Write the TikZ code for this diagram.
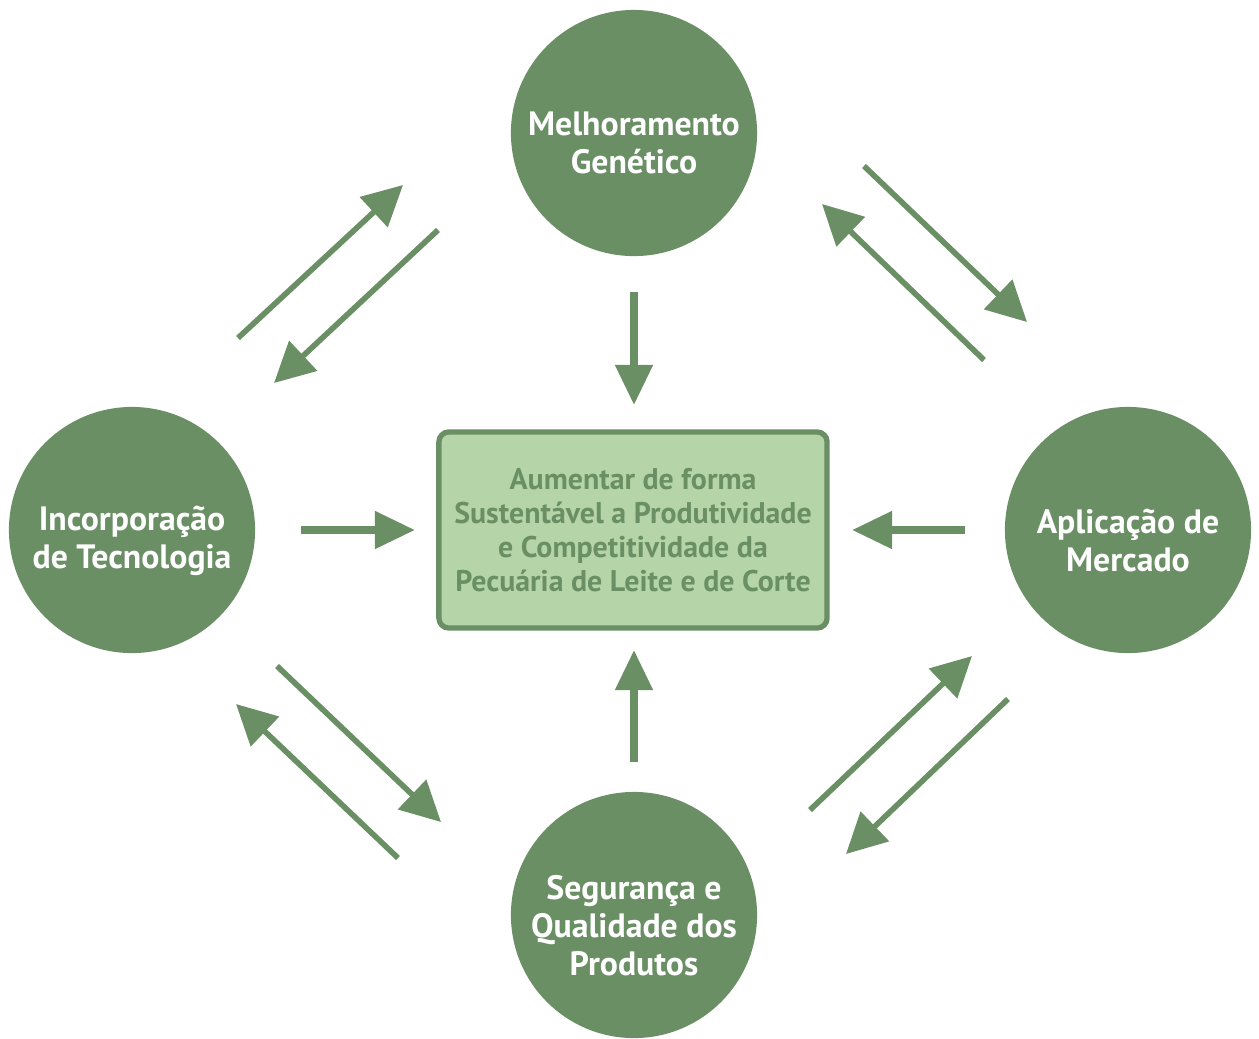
\documentclass[tikz,border=0pt]{standalone}
\usepackage{fontspec}
\setmainfont{PT Sans}
\usetikzlibrary{arrows.meta}

\definecolor{verde}{HTML}{6A8F64}
\definecolor{verdeclaro}{HTML}{B5D4A7}

\tikzset{
  eixo/.style={circle,fill=verde,minimum size=2.46cm,inner sep=0pt},
  rotulo/.style={text=white,inner sep=0pt,
    font=\bfseries\fontsize{9.6}{10.8}\selectfont,align=center},
  meta/.style={rectangle,rounded corners=0.1cm,draw=verde,line width=1.5pt,fill=verdeclaro,
    minimum width=3.88cm,minimum height=1.96cm,text=verde,
    font=\bfseries\fontsize{8.5}{9.6}\selectfont,align=center},
  seta/.style={draw=verde,line width=2.2pt,-{Triangle[length=0.4cm,width=0.36cm]},color=verde},
  setad/.style={draw=verde,line width=1.6pt,-{Triangle[length=0.4cm,width=0.4cm]},color=verde}
}

\begin{document}
\begin{tikzpicture}[x=0.01cm,y=-0.01cm]
	\useasboundingbox (0,0) rectangle (1259,1038);
	
	\node[eixo] (M) at (634,133) {};
	\node[eixo] (I) at (132,530) {};
	\node[eixo] (A) at (1128,530) {};
	\node[eixo] (S) at (634,915) {};
	
	\node[rotulo] (Mt) at ([yshift=-0.1cm]M.center) {Melhoramento\\Genético};
	\node[rotulo] (It) at ([yshift=-0.11cm]I.center) {Incorporação\\de Tecnologia};
	\node[rotulo] (At) at ([yshift=-0.11cm]A.center) {Aplicação de\\Mercado};
	\node[rotulo] (St) at ([yshift=-0.11cm]S.center) {Segurança e\\Qualidade dos\\Produtos};
	
	\node[meta] (C) at (633,530) {Aumentar de forma\\Sustentável a Produtividade\\e Competitividade da\\Pecuária de Leite e de Corte};
	
	% setas para o centro
	\coordinate (m1) at (634,292); \coordinate (m2) at (634,405);
	\coordinate (i1) at (301,530); \coordinate (i2) at (415,530);
	\coordinate (a1) at (965,530); \coordinate (a2) at (852,530);
	\coordinate (s1) at (634,762); \coordinate (s2) at (634,650);
	
	\draw[seta] (m1) -- (m2);
	\draw[seta] (i1) -- (i2);
	\draw[seta] (a1) -- (a2);
	\draw[seta] (s1) -- (s2);
	
	% setas entre os eixos
	\coordinate (mi1) at (238,338); \coordinate (mi2) at (403,185);
	\coordinate (mi3) at (438,230); \coordinate (mi4) at (274,383);
	\coordinate (ma1) at (864,166); \coordinate (ma2) at (1027,322);
	\coordinate (ma3) at (984,360); \coordinate (ma4) at (822,204);
	\coordinate (is1) at (277,666); \coordinate (is2) at (441,822);
	\coordinate (is3) at (398,858); \coordinate (is4) at (236,704);
	\coordinate (sa1) at (810,810); \coordinate (sa2) at (972,656);
	\coordinate (sa3) at (1008,699); \coordinate (sa4) at (846,854);
	
	\draw[setad] (mi1) -- (mi2);
	\draw[setad] (mi3) -- (mi4);
	\draw[setad] (ma1) -- (ma2);
	\draw[setad] (ma3) -- (ma4);
	\draw[setad] (is1) -- (is2);
	\draw[setad] (is3) -- (is4);
	\draw[setad] (sa1) -- (sa2);
	\draw[setad] (sa3) -- (sa4);
	
\end{tikzpicture}
\end{document}
